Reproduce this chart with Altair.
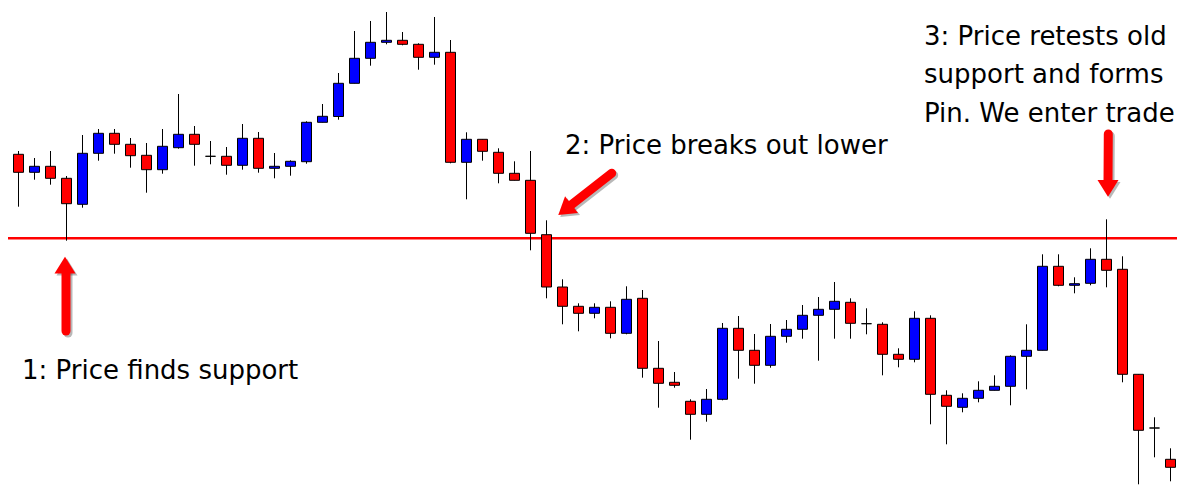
import altair as alt
import pandas as pd

# Price data (arbitrary price units, higher = up)
opens = [342.7, 345.7, 327.7, 333.7, 321.7, 295.7, 346.7, 366.7, 355.7, 344.7,
         330.3, 352.3, 365.7, 343.7, 343.7, 334.7, 361.7, 331.7, 333.7, 338.3,
         377.7, 383.5, 416.7, 441.7, 457.7, 459.7, 455.7, 442.7, 447.7, 337.7,
         360.7, 347.7, 326.7, 319.7, 265.3, 213.0, 193.7, 186.7, 192.7, 166.7,
         201.7, 131.7, 117.7, 98.7, 85.7, 100.7, 171.7, 149.7, 134.7, 163.7,
         170.7, 184.7, 190.7, 197.7, 176.3, 175.7, 145.7, 140.7, 181.7, 104.7,
         92.7, 101.7, 109.7, 113.7, 143.7, 149.7, 233.7, 214.7, 216.7, 240.7,
         230.7, 125.7, 72.0, 40.7, 32.3]
closes = [345.7, 327.7, 333.7, 321.7, 296.3, 346.7, 366.7, 355.7, 344.3, 330.3,
          353.7, 365.7, 355.7, 343.7, 334.7, 361.7, 331.7, 333.7, 338.7, 377.7,
          383.7, 416.7, 441.7, 457.7, 459.7, 455.7, 442.7, 447.7, 337.7, 360.7,
          348.7, 326.7, 319.7, 266.7, 213.0, 193.7, 186.7, 192.7, 166.7, 200.7,
          131.7, 116.7, 114.7, 85.7, 100.7, 171.7, 149.7, 134.7, 163.7, 170.7,
          184.7, 190.7, 198.7, 176.7, 176.3, 145.7, 140.7, 181.7, 105.7, 93.7,
          101.7, 109.7, 113.7, 143.7, 149.7, 233.7, 214.7, 216.3, 240.7, 229.7,
          125.7, 69.7, 72.0, 32.7, 27.0]
highs = [360, 349, 342, 349, 324, 365, 371, 371, 362, 357,
         371, 406, 374, 359, 353, 376, 368, 347, 339.7, 378.7,
         396, 427, 469, 479, 488, 468, 456.7, 483, 460, 367.7,
         360.7, 351.7, 338.7, 349, 279.7, 220.7, 196.7, 196.7, 198.7, 213.7,
         210, 159, 128, 100.7, 111, 177, 184, 166, 176, 180,
         195, 203, 218, 201.7, 191.7, 177.7, 151.7, 188.7, 184.7, 109.7,
         106.7, 118.7, 124.7, 144.7, 175.7, 245.7, 245.7, 222.7, 251.7, 280.7,
         243.7, 125.7, 82.7, 51.7, 35]
lows = [332.3, 293.3, 320.3, 315.3, 259.3, 292.3, 339.3, 346.3, 332.3, 307.3,
        326.3, 351.3, 334.3, 335.7, 325.3, 330.3, 327.3, 321.7, 324.3, 336.3,
        377.7, 380.3, 416.7, 434.3, 455.7, 454.7, 430.3, 435.3, 336.7, 300.7,
        339.3, 316.7, 319.7, 249.7, 201.7, 175.7, 168.7, 181.7, 161.7, 165.7,
        122.3, 92.3, 112.3, 60.3, 78.3, 99.7, 121.3, 116.3, 132.3, 157.3,
        161.3, 139.3, 161.3, 161.3, 165.7, 124.7, 132.7, 137.7, 75.7, 55.7,
        87.7, 97.7, 109.7, 94.7, 110.7, 149.7, 213.7, 206.7, 214.7, 212.7,
        117.7, 15.7, 42.7, 18.7, 22]
support_level = 261.7

labels = ["1: Price finds support",
          "2: Price breaks out lower",
          ["3: Price retests old", "support and forms", "Pin. We enter trade"]]

df = pd.DataFrame({
    "i": list(range(len(opens))),
    "open": opens, "close": closes, "high": highs, "low": lows,
})
df["dir"] = ["up" if c > o else "down" for o, c in zip(opens, closes)]

W, H = 1169, 480
xscale = alt.Scale(domain=[5.5 / 16, (W + 5.5) / 16], nice=False, zero=False, padding=0)
yscale = alt.Scale(domain=[12, 492], nice=False, zero=False, padding=0)

base = alt.Chart(df)

support = alt.Chart(pd.DataFrame({"level": [support_level]})).mark_rule(
    color="#FF0000", strokeWidth=2.5
).encode(y=alt.Y("level:Q", scale=yscale, axis=None))

wicks = base.mark_rule(color="black", strokeWidth=1).encode(
    x=alt.X("i:Q", scale=xscale, axis=None),
    y=alt.Y("low:Q", scale=yscale, axis=None),
    y2="high:Q",
)

bodies = base.mark_bar(size=10, stroke="black", strokeWidth=1).encode(
    x=alt.X("i:Q", scale=xscale, axis=None),
    y=alt.Y("open:Q", scale=yscale, axis=None),
    y2="close:Q",
    color=alt.Color("dir:N", scale=alt.Scale(domain=["up", "down"],
                                             range=["#0000FF", "#FF0000"]),
                    legend=None),
)

one = pd.DataFrame({"k": [0]})
HEAD = "M0,-0.8 L1,0.8 L-1,0.8 Z"


def arrow(x1, y1, x2, y2, hx, hy, ang, color, opacity, dx=0, dy=0):
    shaft = alt.Chart(one).mark_rule(
        color=color, strokeWidth=9, strokeCap="round", opacity=opacity
    ).encode(x=alt.value(x1 + dx), y=alt.value(y1 + dy),
             x2=alt.value(x2 + dx), y2=alt.value(y2 + dy))
    head = alt.Chart(one).mark_point(
        shape=HEAD, filled=True, color=color, size=441, angle=ang,
        opacity=opacity, strokeWidth=0
    ).encode(x=alt.value(hx + dx), y=alt.value(hy + dy))
    return [shaft, head]


arrow_specs = [
    (58, 323, 58, 262, 57, 257.1, 0),
    (603.7, 165.3, 563.7, 196.5, 556.9, 201.8, 232),
    (1100.3, 126, 1100, 175, 1100, 180.3, 180),
]
layers_arrows = []
for s in arrow_specs:
    layers_arrows += arrow(*s, "#333333", 0.35, 2, 2)
for s in arrow_specs:
    layers_arrows += arrow(*s, "#FF0000", 1.0)

FONT = "DejaVu Sans"
FS = 26
t1 = alt.Chart(one).mark_text(text=labels[0], font=FONT, fontSize=FS, align="left",
                              baseline="alphabetic", color="black").encode(
    x=alt.value(14), y=alt.value(371))
t2 = alt.Chart(one).mark_text(text=labels[1], font=FONT, fontSize=FS, align="left",
                              baseline="alphabetic", color="black").encode(
    x=alt.value(557), y=alt.value(146.3))
t3 = alt.Chart(one).mark_text(text=labels[2], font=FONT, fontSize=FS, align="left",
                              baseline="alphabetic", color="black",
                              lineHeight=38.3).encode(
    x=alt.value(916), y=alt.value(37))

chart = alt.layer(support, wicks, bodies, *layers_arrows, t1, t2, t3).properties(
    width=W, height=H, padding=0, autosize=alt.AutoSizeParams(type="none"),
    background="white"
).configure_view(stroke=None)

chart.save("out.html", embed_options={"renderer": "svg", "actions": False})
